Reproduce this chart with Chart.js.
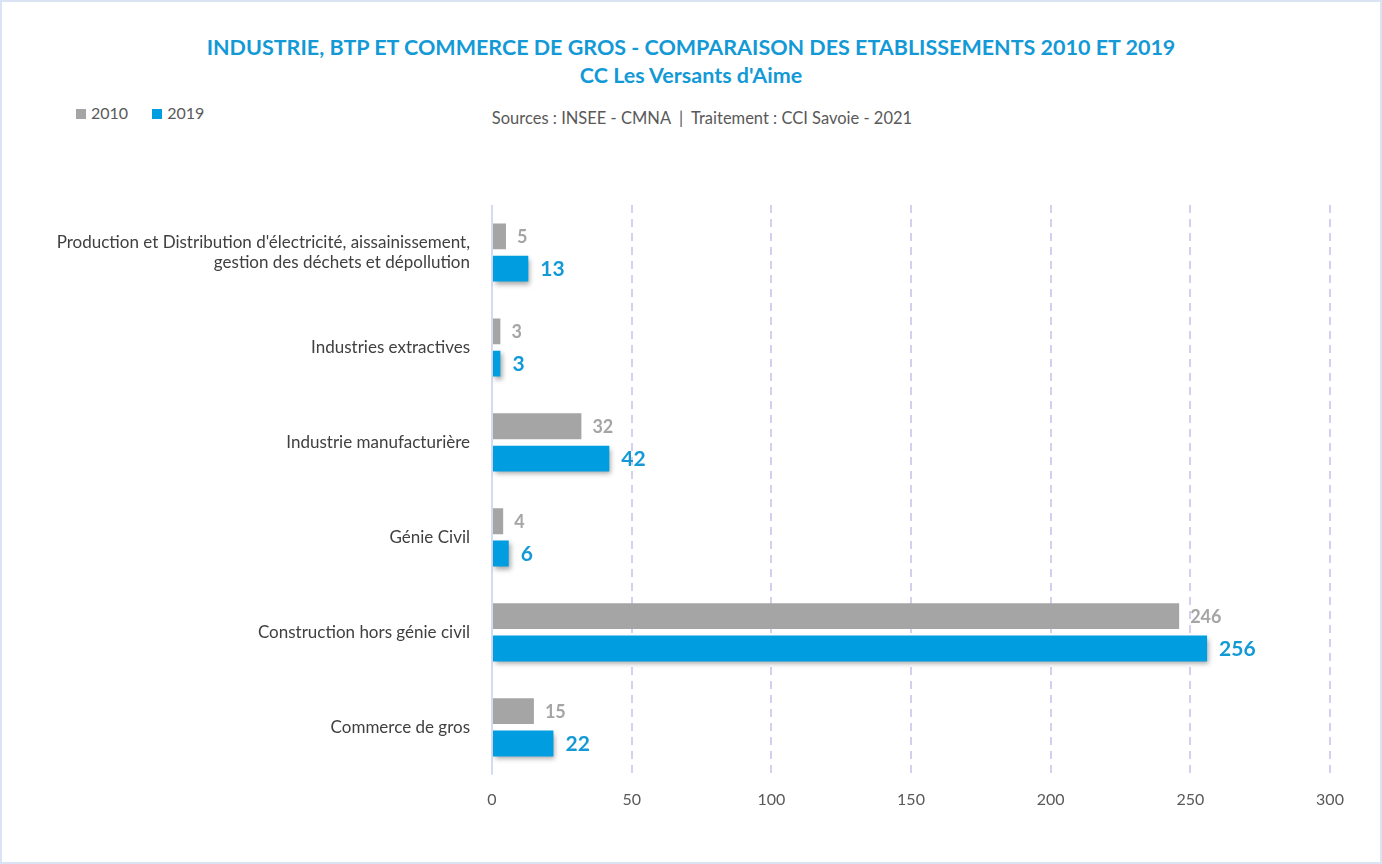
<!DOCTYPE html>
<html>
<head>
<meta charset="utf-8">
<script src="https://cdn.jsdelivr.net/npm/chart.js@4"></script>
<style>
  html, body { margin: 0; padding: 0; background: #fff; }
  #wrap { position: relative; width: 1382px; height: 864px; box-sizing: border-box; border: 2px solid #dae3f3; font-family: Lato, "Open Sans", sans-serif; }
  #title { position: absolute; top: 31px; left: 0; width: 100%; text-align: center; color: #139ad6; font-weight: bold; font-size: 21.5px; line-height: 28px; }
  #legend { position: absolute; top: 101px; left: 74px; font-size: 16px; color: #595959; }
  #legend span.sw { display: inline-block; width: 10px; height: 10px; margin-right: 5px; }
  #legend .item { display: inline-block; margin-right: 20px; }
  #source { position: absolute; top: 106px; left: 0; width: 1400px; text-align: center; font-size: 16.5px; color: #595959; }
  canvas { position: absolute; left: 0; top: 0; }
</style>
</head>
<body>
<div id="wrap">
  <div id="title">INDUSTRIE, BTP ET COMMERCE DE GROS - COMPARAISON DES ETABLISSEMENTS 2010 ET 2019<br>CC Les Versants d'Aime</div>
  <div id="legend">
    <span class="item"><span class="sw" style="background:#a5a5a5"></span>2010</span>
    <span class="item"><span class="sw" style="background:#009de0"></span>2019</span>
  </div>
  <div id="source">Sources : INSEE - CMNA &nbsp;|&nbsp; Traitement : CCI Savoie - 2021</div>
  <canvas id="chart" width="1378" height="860"></canvas>
</div>
<script>
const categories = [
  ["Production et Distribution d'électricité, aissainissement,", "gestion des déchets et dépollution"],
  "Industries extractives",
  "Industrie manufacturière",
  "Génie Civil",
  "Construction hors génie civil",
  "Commerce de gros"
];
const values2010 = [5, 3, 32, 4, 246, 15];
const values2019 = [13, 3, 42, 6, 256, 22];
const xTicks = [0, 50, 100, 150, 200, 250, 300];

const gray = '#a5a5a5';
const blue = '#009de0';

// draws the value next to each bar
const valueLabels = {
  id: 'valueLabels',
  afterDatasetsDraw(chart) {
    const ctx = chart.ctx;
    ctx.save();
    chart.data.datasets.forEach((ds, i) => {
      const meta = chart.getDatasetMeta(i);
      ctx.fillStyle = ds.labelColor;
      ctx.font = ds.labelFont;
      ctx.textBaseline = 'middle';
      ctx.textAlign = 'left';
      meta.data.forEach((bar, j) => {
        ctx.fillText(ds.data[j], bar.x + ds.labelGap, bar.y + 1);
      });
    });
    ctx.restore();
  }
};

// shadow under the 2019 bars
const barShadow = {
  id: 'barShadow',
  beforeDatasetDraw(chart, args) {
    if (args.index === 1) {
      chart.ctx.save();
      chart.ctx.shadowColor = 'rgba(0,0,0,0.35)';
      chart.ctx.shadowBlur = 5;
      chart.ctx.shadowOffsetX = 2;
      chart.ctx.shadowOffsetY = 3;
    }
  },
  afterDatasetDraw(chart, args) {
    if (args.index === 1) chart.ctx.restore();
  }
};

// solid line at x = 0 over the dashed grid
const zeroLine = {
  id: 'zeroLine',
  beforeDatasetsDraw(chart) {
    const x = chart.scales.x.getPixelForValue(0);
    const ctx = chart.ctx;
    ctx.save();
    ctx.fillStyle = '#fff';
    ctx.fillRect(x - 2, chart.chartArea.top - 2, 4, chart.chartArea.bottom - chart.chartArea.top + 4);
    ctx.strokeStyle = '#d3dbf2';
    ctx.lineWidth = 2;
    ctx.beginPath();
    ctx.moveTo(x, chart.chartArea.top);
    ctx.lineTo(x, chart.chartArea.bottom);
    ctx.stroke();
    ctx.restore();
  }
};

new Chart(document.getElementById('chart'), {
  type: 'bar',
  data: {
    labels: categories,
    datasets: [
      { label: '2010', data: values2010, backgroundColor: gray, labelColor: '#a5a5a5', labelFont: 'bold 18px Lato, "Open Sans", sans-serif', labelGap: 11 },
      { label: '2019', data: values2019, backgroundColor: blue, labelColor: '#139ad6', labelFont: 'bold 21px Lato, "Open Sans", sans-serif', labelGap: 12 }
    ]
  },
  options: {
    indexAxis: 'y',
    responsive: false,
    animation: false,
    categoryPercentage: 0.68,
    barPercentage: 0.8,
    layout: { padding: { top: 203, right: 50, bottom: 38, left: 0 } },
    plugins: {
      legend: { display: false },
      tooltip: { enabled: false }
    },
    scales: {
      x: {
        min: 0,
        max: 300,
        afterBuildTicks(axis) { axis.ticks = xTicks.map(v => ({ value: v })); },
        grid: { color: '#d6d0f0', lineWidth: 2, drawTicks: false },
        border: { display: false, dash: [8, 6] },
        ticks: { color: '#595959', font: { family: 'Lato, "Open Sans", sans-serif', size: 16 }, padding: 15 }
      },
      y: {
        afterFit(axis) { axis.width = 490; },
        grid: { display: false },
        border: { display: false },
        ticks: { color: '#404040', font: { family: 'Lato, "Open Sans", sans-serif', size: 17 }, padding: 14, crossAlign: 'near' }
      }
    }
  },
  plugins: [zeroLine, valueLabels, barShadow]
});
</script>
</body>
</html>
